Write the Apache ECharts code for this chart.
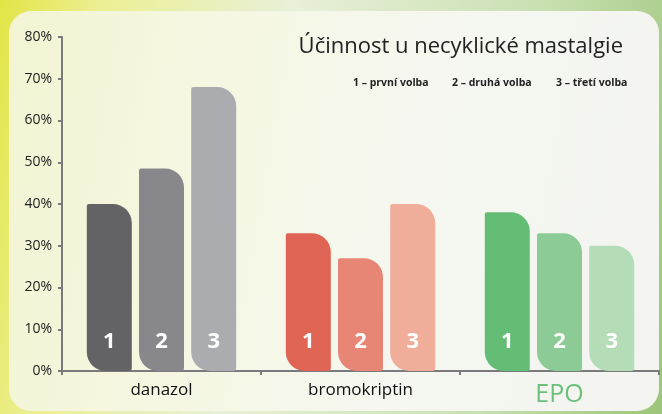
<!DOCTYPE html>
<html>
<head>
<meta charset="utf-8">
<script src="https://cdn.jsdelivr.net/npm/echarts@6/dist/echarts.min.js"></script>
<style>
  html, body {
    margin: 0;
    padding: 0;
  }
  body {
    width: 662px;
    height: 414px;
    overflow: hidden;
    background: linear-gradient(100deg, #e2e546 0%, #ecef94 14%, #e8f0d8 40%, #c8dfb0 75%, #9cc57a 100%);
  }
  .panel {
    position: absolute;
    left: 9px;
    top: 11px;
    width: 650px;
    height: 400px;
    border-radius: 22px;
    background: linear-gradient(100deg, #f2f4d2 0%, #f5f7e2 30%, #f5f7f0 60%, #f3f4f0 100%);
  }
  #chart {
    position: absolute;
    left: 0;
    top: 0;
    width: 662px;
    height: 414px;
  }
</style>
</head>
<body>
<div class="panel"></div>
<div id="chart"></div>
<script>
const categories = ['danazol', 'bromokriptin', 'EPO']
const rankNames = ['1 – první volba', '2 – druhá volba', '3 – třetí volba']
const rankLabels = ['1', '2', '3']
const firstChoice = [40, 33, 38]
const secondChoice = [48.5, 27, 33]
const thirdChoice = [68, 40, 30]
const yTicks = [0, 10, 20, 30, 40, 50, 60, 70, 80]

// colours per category (rows) and rank (columns)
const palette = [
  ['#636366', '#88888c', '#abacb0'],
  ['#e06454', '#e88675', '#f0ad9a'],
  ['#63bd74', '#8ccb95', '#b3dcb7']
]

const chart = echarts.init(document.getElementById('chart'))

const seriesValues = [firstChoice, secondChoice, thirdChoice]

const series = seriesValues.map((vals, r) => ({
  name: rankNames[r],
  type: 'bar',
  barWidth: 45,
  barGap: '16%',
  data: vals.map((v, c) => ({
    value: v,
    itemStyle: { color: palette[c][r] }
  })),
  itemStyle: {
    borderRadius: [2, 19, 3, 19]
  },
  label: {
    show: true,
    position: 'insideBottom',
    distance: 18,
    formatter: rankLabels[r],
    color: '#fff',
    fontSize: 22,
    fontWeight: 'bold',
    fontFamily: 'Open Sans'
  }
}))

const legendX = [353, 452, 556]

const option = {
  animation: false,
  backgroundColor: 'transparent',
  title: {
    text: 'Účinnost u necyklické mastalgie',
    right: 34,
    top: 31,
    textStyle: {
      fontFamily: 'Open Sans',
      fontWeight: 'normal',
      fontSize: 22,
      color: '#222'
    }
  },
  graphic: rankNames.map((name, i) => ({
    type: 'text',
    left: legendX[i],
    top: 78,
    style: {
      text: name,
      fill: '#222',
      font: 'bold 10.5px "Open Sans"'
    }
  })),
  grid: {
    left: 62,
    right: 3,
    top: 37,
    bottom: 43
  },
  xAxis: {
    type: 'category',
    data: categories,
    axisLine: {
      lineStyle: { color: '#7a7a7c', width: 2 }
    },
    axisTick: {
      show: true,
      length: 4,
      lineStyle: { color: '#7a7a7c', width: 2 }
    },
    axisLabel: {
      margin: 11,
      formatter: (v) => (v === 'EPO' ? '{epo|' + v + '}' : '{def|' + v + '}'),
      rich: {
        def: {
          fontFamily: 'Open Sans',
          fontSize: 17,
          color: '#111'
        },
        epo: {
          fontFamily: 'Open Sans',
          fontSize: 25,
          color: '#6cc07a'
        }
      }
    }
  },
  yAxis: {
    type: 'value',
    min: yTicks[0],
    max: yTicks[yTicks.length - 1],
    interval: 10,
    axisLine: {
      show: true,
      lineStyle: { color: '#7a7a7c', width: 2 }
    },
    axisTick: {
      show: true,
      length: 4,
      lineStyle: { color: '#7a7a7c', width: 2 }
    },
    splitLine: { show: false },
    axisLabel: {
      margin: 10,
      formatter: '{value}%',
      fontFamily: 'Open Sans',
      fontSize: 14,
      color: '#222'
    }
  },
  series: series
}

chart.setOption(option)
</script>
</body>
</html>
